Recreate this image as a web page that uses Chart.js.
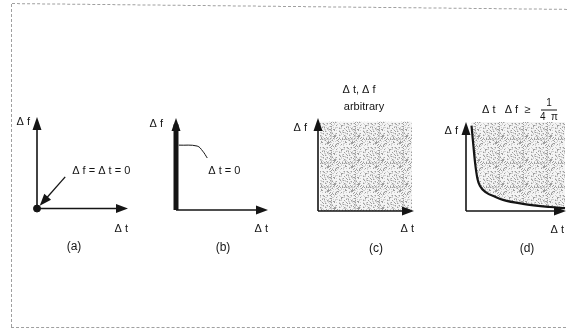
<!DOCTYPE html>
<html>
<head>
<meta charset="utf-8">
<script src="https://cdn.jsdelivr.net/npm/chart.js@4.4.1/dist/chart.umd.min.js"></script>
<style>
  body { margin: 0; background: #fff; }
  #page { position: relative; width: 568px; height: 333px; overflow: hidden; }
  #page canvas { position: absolute; left: 0; top: 0; }
  .scan { position: absolute; border: 0 dashed #a0a0a0; }
</style>
</head>
<body>
<div id="page">
  <div class="scan" style="left:11px;top:4px;height:323px;border-left-width:1px"></div>
  <div class="scan" style="left:12px;top:6px;width:560px;border-top-width:1px;transform:rotate(0.6deg)"></div>
  <div class="scan" style="left:11px;top:327px;width:560px;border-top-width:1px"></div>
  <canvas id="pa" width="568" height="333"></canvas>
  <canvas id="pb" width="568" height="333"></canvas>
  <canvas id="pc" width="568" height="333"></canvas>
  <canvas id="pd" width="568" height="333"></canvas>
</div>
<script>
// ---- data ----
const axisNames = ['Δ f', 'Δ t'];
const panelTags = ['(a)', '(b)', '(c)', '(d)'];

// (a) both spreads are zero: a single point at the origin
const originPoint = [{ x: 0, y: 0 }];
const noteA = 'Δ f = Δ t = 0';
const noteAFrom = { x: 3.1, y: 3.45 };
const noteATo = { x: 0.3, y: 0.3 };

// (b) Δt = 0, Δf anything: the whole Δf axis
const pulseDf = [0, 9.3];
const leaderBx = [0.3, 2.3, 2.9, 3.4];
const leaderBy = [7.05, 6.95, 6.4, 5.65];
const noteB = 'Δ t = 0';

// (c) anything goes: the whole quadrant is shaded
const titleC = ['Δ t, Δ f', 'arbitrary'];
const regionCx = [0.2, 9.8];
const regionCy = [9.6, 9.6];

// (d) the uncertainty bound  Δt·Δf = 1/(4π)
const boundDt = [0.55, 0.7, 0.9, 1.15, 1.4, 2.0, 2.9, 3.7, 5.7, 8.4, 9.9];
const boundDf = [9.6, 7.8, 5.5, 3.6, 2.8, 2.1, 1.6, 1.25, 0.8, 0.45, 0.32];
const titleD = ['Δ t   Δ f  ≥', '1', '4  π'];

const ink = '#151515';
const FONT = '"Liberation Sans", Arial, sans-serif';

// panel boxes: origin (ox, oy) and arrow tips (tx, ty), in page pixels
const panels = [
  { id: 'pa', ox: 37, oy: 208.5, tx: 128, ty: 117, dfGap: 7, dfDy: 5, dtDx: 0, dtDy: 20, tagDx: 37 },
  { id: 'pb', ox: 176, oy: 210, tx: 268, ty: 118, dfGap: 13, dfDy: 6, dtDx: 0, dtDy: 19, tagDx: 47 },
  { id: 'pc', ox: 318, oy: 211, tx: 414, ty: 118, dfGap: 11, dfDy: 10, dtDx: 0, dtDy: 18, tagDx: 58 },
  { id: 'pd', ox: 466, oy: 211, tx: 566, ty: 122, dfGap: 8, dfDy: 9, dtDx: 2, dtDy: 19, tagDx: 61 }
];

function xy(xs, ys) {
  return xs.map((v, i) => ({ x: v, y: ys[i] }));
}

// speckled grey like the printed screen tone (fixed hash, not random)
function stipple() {
  const n = 24;
  const c = document.createElement('canvas');
  c.width = n; c.height = n;
  const g = c.getContext('2d');
  g.fillStyle = '#f4f4f4';
  g.fillRect(0, 0, n, n);
  for (let i = 0; i < n; i++) {
    for (let j = 0; j < n; j++) {
      const h = (i * 73 + j * 151 + ((i * j * 29) % 17)) % 13;
      if (h < 2) { g.fillStyle = '#9e9e9e'; g.fillRect(i, j, 1, 1); }
      else if (h < 5) { g.fillStyle = '#cfcfcf'; g.fillRect(i, j, 1, 1); }
    }
  }
  return g.createPattern(c, 'repeat');
}

function arrowHead(ctx, tx, ty, dx, dy, len, half) {
  const bx = tx - dx * len, by = ty - dy * len;
  ctx.beginPath();
  ctx.moveTo(tx, ty);
  ctx.lineTo(bx - dy * half, by + dx * half);
  ctx.lineTo(bx + dy * half, by - dx * half);
  ctx.closePath();
  ctx.fill();
}

// axes with arrows, axis names and panel tag
const sketch = {
  id: 'sketch',
  afterDatasetsDraw(chart, args, o) {
    const { ctx, chartArea: a, scales: { x, y } } = chart;
    const ox = x.getPixelForValue(0), oy = y.getPixelForValue(0);
    ctx.save();
    ctx.strokeStyle = ink;
    ctx.fillStyle = ink;
    ctx.lineWidth = 1.6;
    ctx.beginPath();
    ctx.moveTo(ox, oy); ctx.lineTo(ox, a.top + 8);
    ctx.moveTo(ox, oy); ctx.lineTo(a.right - 8, oy);
    ctx.stroke();
    arrowHead(ctx, ox, a.top, 0, -1, 13, 4.5);
    arrowHead(ctx, a.right, oy, 1, 0, 12, 4.5);

    ctx.textBaseline = 'middle';
    ctx.font = '11px ' + FONT;
    ctx.textAlign = 'right';
    ctx.fillText(axisNames[0], ox - o.dfGap, a.top + o.dfDy);
    ctx.fillText(axisNames[1], a.right - o.dtDx, oy + o.dtDy);
    ctx.textAlign = 'center';
    ctx.font = '12px ' + FONT;
    ctx.fillText(o.tag, ox + o.tagDx, oy + 38);
    if (o.extra) o.extra(chart, ctx);
    ctx.restore();
  }
};

function makePanel(i, datasets, extra) {
  const p = panels[i];
  return new Chart(document.getElementById(p.id), {
    type: 'line',
    data: { datasets: datasets },
    options: {
      responsive: false,
      animation: false,
      layout: { padding: { left: p.ox, top: p.ty, right: 568 - p.tx, bottom: 333 - p.oy } },
      scales: {
        x: { type: 'linear', min: 0, max: 10, display: false },
        y: { type: 'linear', min: 0, max: 10, display: false }
      },
      plugins: {
        legend: { display: false },
        tooltip: { enabled: false },
        sketch: { tag: panelTags[i], dfGap: p.dfGap, dfDy: p.dfDy, dtDx: p.dtDx, dtDy: p.dtDy, tagDx: p.tagDx, extra: extra }
      }
    },
    plugins: [sketch]
  });
}

const tone = stipple();

// (a)
makePanel(0, [{
  data: originPoint,
  showLine: false,
  pointRadius: 3.5,
  backgroundColor: ink,
  borderColor: ink,
  clip: false
}], function (chart, ctx) {
  const { x, y } = chart.scales;
  const x1 = x.getPixelForValue(noteAFrom.x), y1 = y.getPixelForValue(noteAFrom.y);
  const x2 = x.getPixelForValue(noteATo.x), y2 = y.getPixelForValue(noteATo.y);
  const d = Math.hypot(x2 - x1, y2 - y1);
  ctx.lineWidth = 1.3;
  ctx.beginPath(); ctx.moveTo(x1, y1); ctx.lineTo(x2 - (x2 - x1) / d * 8, y2 - (y2 - y1) / d * 8); ctx.stroke();
  arrowHead(ctx, x2, y2, (x2 - x1) / d, (y2 - y1) / d, 12, 4.5);
  ctx.font = '11px ' + FONT;
  ctx.textAlign = 'center';
  ctx.fillText(noteA, x1 + 36, y1 - 6);
});

// (b)
makePanel(1, [{
  data: pulseDf.map(v => ({ x: 0, y: v })),
  borderColor: ink,
  borderWidth: 5,
  pointRadius: 0,
  clip: false
}, {
  data: xy(leaderBx, leaderBy),
  borderColor: ink,
  borderWidth: 1,
  pointRadius: 0,
  tension: 0.4
}], function (chart, ctx) {
  const { x, y } = chart.scales;
  ctx.font = '11px ' + FONT;
  ctx.textAlign = 'center';
  ctx.fillText(noteB, x.getPixelForValue(leaderBx[3]) + 17, y.getPixelForValue(leaderBy[3]) + 13);
});

// (c)
makePanel(2, [{
  data: xy(regionCx, regionCy),
  borderWidth: 0,
  pointRadius: 0,
  fill: 'origin',
  backgroundColor: tone
}], function (chart, ctx) {
  const { chartArea: a } = chart;
  ctx.font = '11px ' + FONT;
  ctx.textAlign = 'center';
  ctx.fillText(titleC[0], a.left + 41, a.top - 28);
  ctx.fillText(titleC[1], a.left + 46, a.top - 11);
});

// (d)
makePanel(3, [{
  data: xy(boundDt, boundDf),
  borderColor: ink,
  borderWidth: 2.2,
  pointRadius: 0,
  cubicInterpolationMode: 'monotone',
  fill: 'end',
  backgroundColor: tone
}], function (chart, ctx) {
  const { chartArea: a } = chart;
  ctx.font = '11px ' + FONT;
  ctx.textAlign = 'left';
  ctx.fillText(titleD[0], a.left + 16, a.top - 12);
  ctx.textAlign = 'center';
  ctx.font = '10px ' + FONT;
  ctx.fillText(titleD[1], a.left + 83, a.top - 19);
  ctx.fillText(titleD[2], a.left + 83, a.top - 5);
  ctx.lineWidth = 1;
  ctx.beginPath(); ctx.moveTo(a.left + 75, a.top - 12); ctx.lineTo(a.left + 91, a.top - 12); ctx.stroke();
});
</script>
</body>
</html>
